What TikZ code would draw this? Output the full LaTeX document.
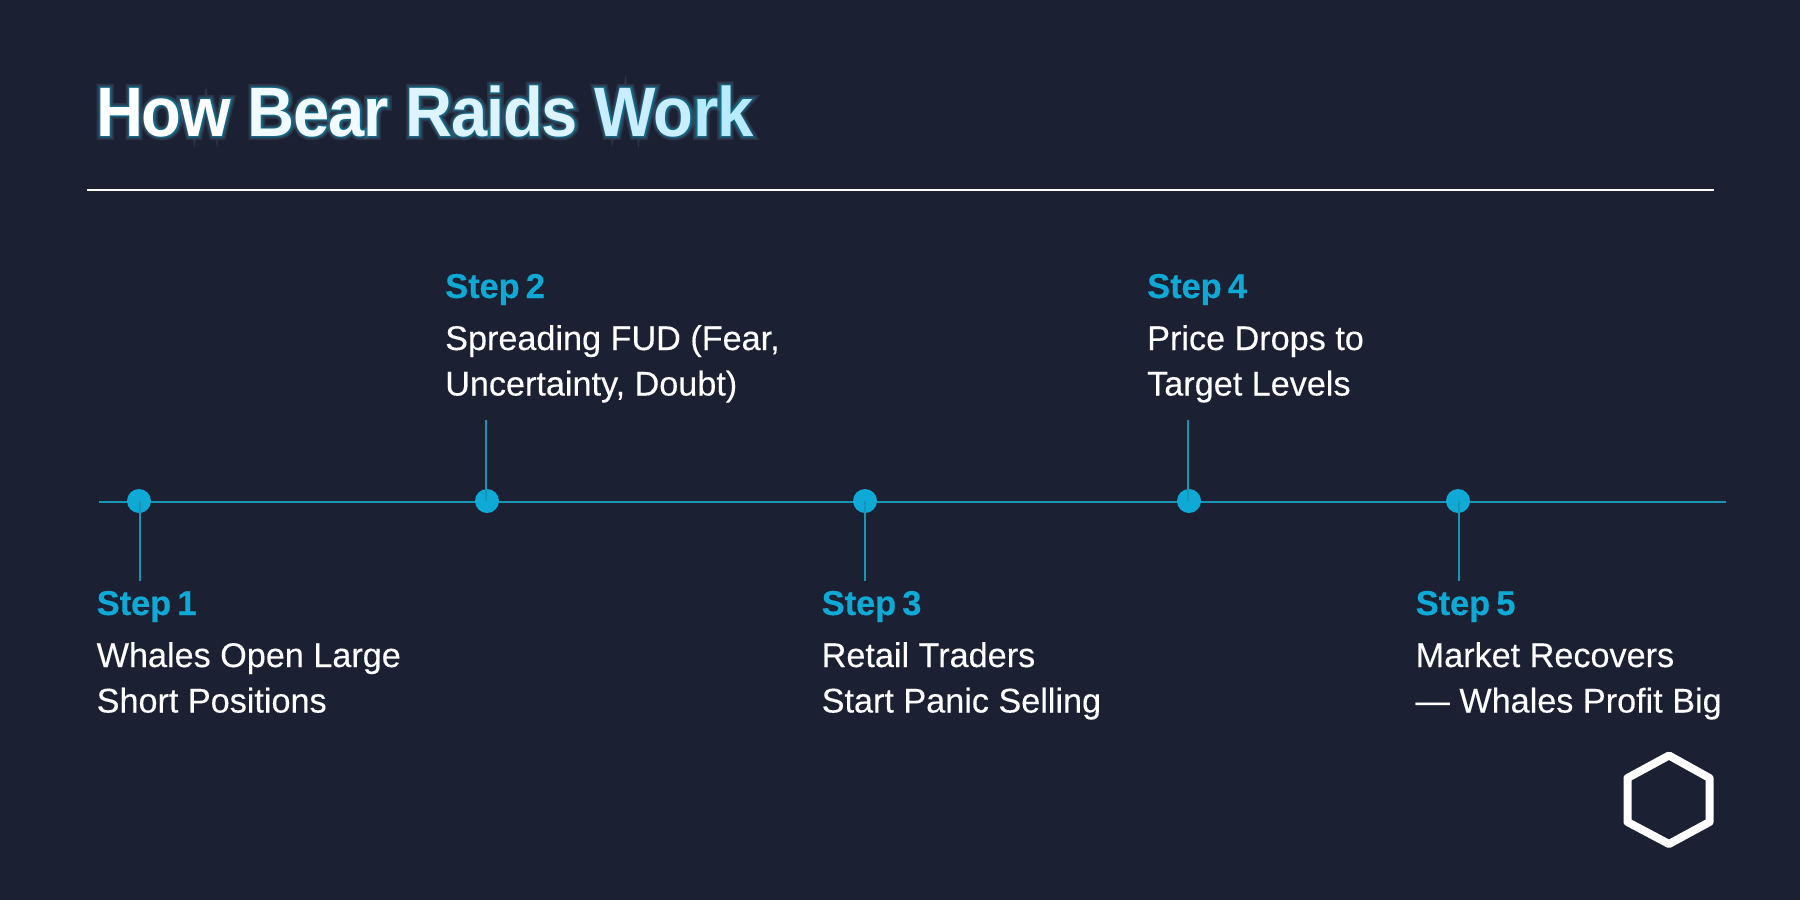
\documentclass[tikz,border=0pt]{standalone}
\usepackage{fontspec}
\setmainfont[FakeBold=0.25]{Liberation Sans}
\newfontfamily\ttl[LetterSpace=-1.8,FakeStretch=0.93]{Liberation Sans Bold}
\newfontfamily\ttlA[LetterSpace=-1.8,FakeStretch=0.93,FakeBold=2]{Liberation Sans Bold}
\newfontfamily\ttlB[LetterSpace=-1.8,FakeStretch=0.93,FakeBold=4.5]{Liberation Sans Bold}
\newfontfamily\ttlC[LetterSpace=-1.8,FakeStretch=0.93,FakeBold=7.5]{Liberation Sans Bold}
\newfontfamily\ttlD[LetterSpace=-1.8,FakeStretch=0.93,FakeBold=11]{Liberation Sans Bold}
\newfontfamily\stp[LetterSpace=-0.3,WordSpace=0.65,FakeBold=0.3]{Liberation Sans Bold}
\definecolor{bgc}{HTML}{1B2033}
\definecolor{cyn}{HTML}{0FA9D6}
\definecolor{lin}{HTML}{1794B6}
\definecolor{tl0}{HTML}{FFFFFF}
\definecolor{tl1}{HTML}{F0FAFF}
\definecolor{tl2}{HTML}{DDF4FF}
\definecolor{tl3}{HTML}{C8EEFF}
\definecolor{tl4}{HTML}{B8EBFF}
\newcommand{\gradtitle}{{\color{tl0}How }{\color{tl1}Bear }{\color{tl2}Raids }{\color{tl3}Wo}{\color{tl4}rk}}
\newcommand{\plaintitle}{How Bear Raids Work}
\newcommand{\twolines}[2]{\vtop{\baselineskip=45.5pt\hbox{#1}\hbox{#2}}}
\tikzset{
 x=1pt,y=-1pt,
 axisline/.style={draw=lin,line width=1.6pt},
 stem/.style={draw=lin,line width=1.4pt},
 dot/.style={circle,fill=cyn,minimum size=24pt,inner sep=0pt},
 steplabel/.style={anchor=base west,inner sep=0pt,text=cyn,font=\stp\fontsize{34.5}{38}\selectfont},
 stepbody/.style={anchor=base west,inner sep=0pt,text=white,font=\fontsize{34.2}{45}\selectfont},
 titlenode/.style={anchor=base west,inner sep=0pt,font=\fontsize{70}{80}\selectfont},
}
\begin{document}
\begin{tikzpicture}
\useasboundingbox (0,0) rectangle (1800,900);
\fill[bgc] (0,0) rectangle (1800,900);
% title glow
\node[titlenode,text=white,text opacity=.08] at (96,136) {\ttlD\plaintitle};
\node[titlenode,text=cyn,text opacity=.14] at (96,136) {\ttlC\plaintitle};
\node[titlenode,text=cyn,text opacity=.24] at (96,136) {\ttlB\plaintitle};
\node[titlenode,text=black!35!cyn,text opacity=.75] at (96,136) {\ttlA\plaintitle};
\node[titlenode] (title) at (96,136) {\ttl\gradtitle};
% rule
\coordinate (ruleL) at (87,190);
\coordinate (ruleR) at (1714,190);
\draw[white,line width=1.2pt] (ruleL) -- (ruleR);
% axis
\coordinate (axL) at (99,502);
\coordinate (axR) at (1726,502);
\draw[axisline] (axL) -- (axR);
% stem ends
\coordinate (e1) at (140,581);
\coordinate (e2) at (486,420);
\coordinate (e3) at (865,581);
\coordinate (e4) at (1188,420);
\coordinate (e5) at (1459,581);
% dots
\node[dot] (d1) at (139,501) {};
\node[dot] (d2) at (487,501) {};
\node[dot] (d3) at (865,501) {};
\node[dot] (d4) at (1189,501) {};
\node[dot] (d5) at (1458,501) {};
\draw[stem] (d1.center -| e1) -- (e1);
\draw[stem] (d2.center -| e2) -- (e2);
\draw[stem] (d3.center -| e3) -- (e3);
\draw[stem] (d4.center -| e4) -- (e4);
\draw[stem] (d5.center -| e5) -- (e5);
% labels
\node[steplabel] (s1) at (96.5,615) {Step 1};
\node[stepbody] (b1) at (96.5,667) {\twolines{Whales Open Large}{Short Positions}};
\node[steplabel] (s2) at (445,298) {Step 2};
\node[stepbody] (b2) at (445,350) {\twolines{Spreading FUD (Fear,}{Uncertainty, Doubt)}};
\node[steplabel] (s3) at (821.5,615) {Step 3};
\node[stepbody] (b3) at (821.5,667) {\twolines{Retail Traders}{Start Panic Selling}};
\node[steplabel] (s4) at (1147,298) {Step 4};
\node[stepbody] (b4) at (1147,350) {\twolines{Price Drops to}{Target Levels}};
\node[steplabel] (s5) at (1415.5,615) {Step 5};
\node[stepbody] (b5) at (1415.5,667) {\twolines{Market Recovers}{— Whales Profit Big}};
% logo
\draw[white,line width=8pt,line join=round] (1669,755.5) -- (1709.5,778) -- (1709.5,822) -- (1669,844) -- (1627.5,822) -- (1627.5,778) -- cycle;
\end{tikzpicture}
\end{document}
